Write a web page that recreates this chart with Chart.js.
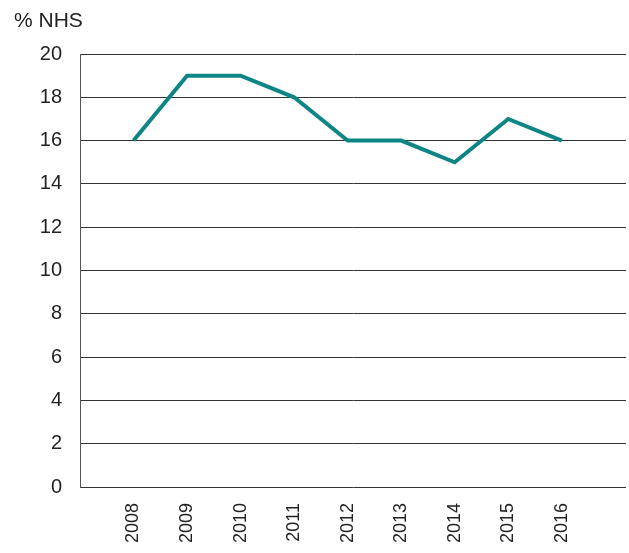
<!DOCTYPE html>
<html>
<head>
<meta charset="utf-8">
<script src="https://cdn.jsdelivr.net/npm/chart.js@4"></script>
<style>
  html, body { margin: 0; padding: 0; background: #fff; }
  #wrap { width: 629px; height: 553px; }
</style>
</head>
<body>
<div id="wrap"><canvas id="chart"></canvas></div>
<script>
// yearly share, % of NHS
const years = [2008, 2009, 2010, 2011, 2012, 2013, 2014, 2015, 2016];
const shares = [16, 19, 19, 18, 16, 16, 15, 17, 16];
const yTicks = [0, 2, 4, 6, 8, 10, 12, 14, 16, 18, 20];
const unitLabel = '% NHS';

const FONT = "'Liberation Sans', Arial, Helvetica, sans-serif";

// draws the unit caption above the y axis
const unitCaption = {
  id: 'unitCaption',
  afterDraw(chart) {
    let ctx = chart.ctx;
    ctx.save();
    ctx.font = '21px ' + FONT;
    ctx.fillStyle = '#222';
    ctx.textBaseline = 'alphabetic';
    ctx.textAlign = 'left';
    ctx.fillText(unitLabel, 14, 27);
    ctx.restore();
  }
};

let ctx = document.getElementById('chart').getContext('2d');
let myChart = new Chart(ctx, {
  type: 'line',
  data: {
    datasets: [{
      data: years.map((y, i) => ({ x: y, y: shares[i] })),
      borderColor: '#0d8585',
      borderWidth: 4,
      pointRadius: 0,
      tension: 0,
      fill: false
    }]
  },
  options: {
    responsive: true,
    maintainAspectRatio: false,
    animation: false,
    layout: { padding: { top: 54, right: 3, left: 0, bottom: 0 } },
    plugins: {
      legend: { display: false },
      tooltip: { enabled: false }
    },
    scales: {
      x: {
        type: 'linear',
        min: 2007,
        max: 2017.2,
        afterBuildTicks: (scale) => { scale.ticks = years.map(v => ({ value: v })); },
        afterFit: (scale) => { scale.height = 66; },
        grid: { display: false, drawTicks: false },
        border: { display: false },
        ticks: {
          autoSkip: false,
          minRotation: 90,
          maxRotation: 90,
          padding: 16,
          color: '#222',
          font: { family: FONT, size: 18 },
          callback: (v) => String(v)
        }
      },
      y: {
        min: 0,
        max: 20,
        afterBuildTicks: (scale) => { scale.ticks = yTicks.map(v => ({ value: v })); },
        afterFit: (scale) => { scale.width = 80; },
        grid: { color: '#333', lineWidth: 1, drawTicks: false },
        border: { display: true, color: '#555', width: 1 },
        ticks: {
          padding: 18,
          color: '#222',
          font: { family: FONT, size: 20 }
        }
      }
    }
  },
  plugins: [unitCaption]
});
</script>
</body>
</html>
